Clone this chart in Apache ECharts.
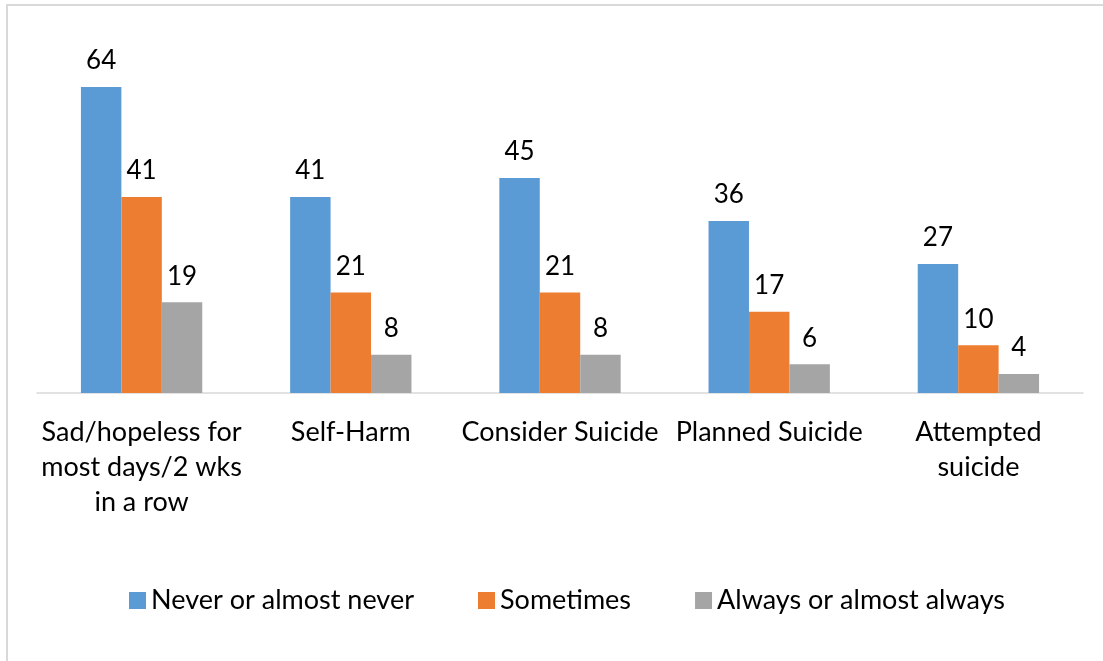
<!DOCTYPE html>
<html>
<head>
<meta charset="utf-8">
<script src="https://cdn.jsdelivr.net/npm/echarts@6/dist/echarts.min.js"></script>
<style>
html,body{margin:0;padding:0;background:#fff;}
#chart{width:1103px;height:661px;}
</style>
</head>
<body>
<div id="chart"></div>
<script>
const categories = [
  "Sad/hopeless for\nmost days/2 wks\nin a row",
  "Self-Harm",
  "Consider Suicide",
  "Planned Suicide",
  "Attempted\nsuicide"
];
const seriesNames = ["Never or almost never", "Sometimes", "Always or almost always"];
const neverValues = [64, 41, 45, 36, 27];
const sometimesValues = [41, 21, 21, 17, 10];
const alwaysValues = [19, 8, 8, 6, 4];
const colors = ["#5B9BD5", "#ED7D31", "#A5A5A5"];

const FONT = "Lato";
const chart = echarts.init(document.getElementById("chart"));
const allValues = [neverValues, sometimesValues, alwaysValues];

chart.setOption({
  animation: false,
  backgroundColor: "#fff",
  textStyle: { fontFamily: FONT },
  graphic: [{
    type: "rect",
    shape: { x: 7, y: 5, width: 1200, height: 800 },
    style: { fill: null, stroke: "#D9D9D9", lineWidth: 2 },
    silent: true
  }],
  grid: { left: 37, right: 20, top: 58.4, bottom: 268, containLabel: false },
  legend: {
    left: 129,
    top: 587,
    padding: 0,
    itemWidth: 17,
    itemHeight: 17,
    itemGap: 64,
    icon: "rect",
    textStyle: { fontFamily: FONT, fontSize: 27, color: "#000" },
    data: seriesNames
  },
  xAxis: {
    type: "category",
    data: categories,
    axisLine: { lineStyle: { color: "#D9D9D9", width: 1.5 } },
    axisTick: { show: false },
    axisLabel: {
      interval: 0,
      margin: 22,
      fontFamily: FONT,
      fontSize: 27,
      lineHeight: 35,
      color: "#000"
    }
  },
  yAxis: {
    type: "value",
    min: 0,
    max: 70,
    show: false,
    splitLine: { show: false }
  },
  series: seriesNames.map((name, i) => ({
    name: name,
    type: "bar",
    data: allValues[i],
    itemStyle: { color: colors[i] },
    barGap: "0%",
    barCategoryGap: "42%",
    label: {
      show: true,
      position: "top",
      distance: 13,
      fontFamily: FONT,
      fontSize: 26,
      color: "#000"
    }
  }))
});
</script>
</body>
</html>
